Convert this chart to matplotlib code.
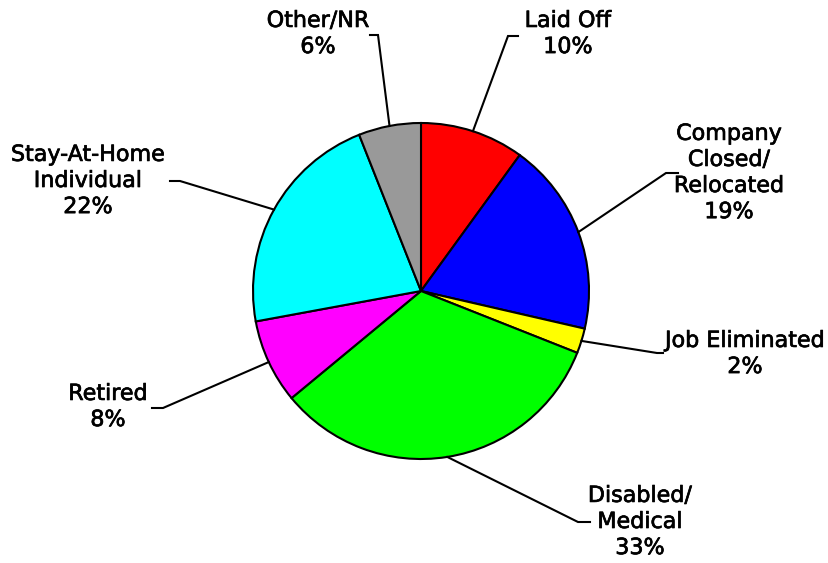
import numpy as np
import matplotlib.pyplot as plt
import matplotlib.patheffects as pe

# reasons, clockwise from 12 o'clock
categories = ["Laid Off", "Company\nClosed/\nRelocated", "Job Eliminated",
              "Disabled/\nMedical", "Retired", "Stay-At-Home\nIndividual", "Other/NR"]
shares = [10.0, 18.6, 2.4, 33.0, 8.1, 21.9, 6.0]
colors = ["#FF0000", "#0000FF", "#FFFF00", "#00FF00", "#FF00FF", "#00FFFF", "#999999"]

W, H = 829, 563
# label centre (x, y) and leader elbow (x, y, end of horizontal tick), pixels from top-left
label_pos = [(568, 34), (729, 173), (745, 354), (640, 522), (108, 407), (88, 181), (318, 34)]
elbows = [(508, 36, 518), (666, 173, 678), (657, 353, 663), (578, 522, 590),
          (163, 408, 152), (180, 181, 170), (378, 35, 370)]

fig = plt.figure(figsize=(W / 100, H / 100), dpi=100)
ax = fig.add_axes([0, 0, 1, 1])

cx, cy, r = 421, H - 291, 168
wedges, _ = ax.pie(shares, colors=colors, startangle=90, counterclock=False,
                   center=(cx, cy), radius=r, frame=True,
                   wedgeprops=dict(edgecolor="black", linewidth=1.5))
ax.set_xlim(0, W)
ax.set_ylim(0, H)
ax.set_aspect("equal")
ax.axis("off")

for w, name, val, (tx, ty), (ex, ey, hx) in zip(wedges, categories, shares, label_pos, elbows):
    ang = np.deg2rad((w.theta1 + w.theta2) / 2)
    sx, sy = cx + r * np.cos(ang), cy + r * np.sin(ang)
    ax.plot([sx, ex, hx], [sy, H - ey, H - ey], color="black", lw=1.5,
            solid_joinstyle="miter", zorder=3)
    txt = name + "\n" + f"{round(val)}%"
    # thin stroke makes the text a bit heavier, like the original
    ax.text(tx, H - ty, txt, ha="center", va="center", fontsize=16,
            family="DejaVu Sans", linespacing=1.38,
            path_effects=[pe.withStroke(linewidth=0.5, foreground="black")])

fig.savefig("out.png", dpi=100)
